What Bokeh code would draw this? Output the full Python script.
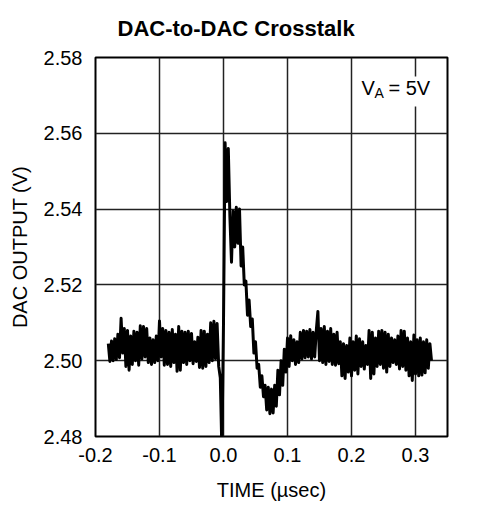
from bokeh.plotting import figure
from bokeh.models import Range1d, FixedTicker, NumeralTickFormatter, Label, BoxAnnotation
from bokeh.embed import file_html
from bokeh.resources import INLINE

# ---- data ----
TITLE = "DAC-to-DAC Crosstalk"
X_LABEL = "TIME (µsec)"
Y_LABEL = "DAC OUTPUT (V)"
x_ticks = [-0.2, -0.1, 0.0, 0.1, 0.2, 0.3]
y_ticks = [2.48, 2.50, 2.52, 2.54, 2.56, 2.58]

t_start = -0.18      # µs, first sample
t_step = 0.0025      # µs, sample spacing
volts = [
    2.5045, 2.4998, 2.5052, 2.5000, 2.5058, 2.5003, 2.5070, 2.5008, 2.5112, 2.5020,
    2.5085, 2.4985, 2.5080, 2.4975, 2.5065, 2.4990, 2.5078, 2.5000, 2.5075, 2.4988,
    2.5092, 2.5005, 2.5090, 2.5010, 2.5085, 2.4995, 2.5060, 2.4990, 2.5055, 2.4995,
    2.5065, 2.5000, 2.5105, 2.5010, 2.5085, 2.4988, 2.5080, 2.4990, 2.5075, 2.4985,
    2.5082, 2.4995, 2.5070, 2.4972, 2.5090, 2.4975, 2.5078, 2.4995, 2.5075, 2.4990,
    2.5078, 2.5000, 2.5072, 2.4992, 2.5050, 2.4998, 2.5062, 2.4982, 2.5080, 2.4980,
    2.5078, 2.4985, 2.5070, 2.4995, 2.5100, 2.5000, 2.5104, 2.5005, 2.5098, 2.4985,
    2.4955, 2.4760, 2.5100, 2.5575, 2.5420, 2.5560, 2.5380, 2.5260, 2.5395, 2.5300,
    2.5405, 2.5310, 2.5400, 2.5250, 2.5300, 2.5200, 2.5210, 2.5120, 2.5160, 2.5090,
    2.5110, 2.5020, 2.5050, 2.4980, 2.4990, 2.4930, 2.4960, 2.4905, 2.4935, 2.4870,
    2.4930, 2.4860, 2.4925, 2.4862, 2.4935, 2.4880, 2.4975, 2.4910, 2.5000, 2.4935,
    2.5030, 2.4970, 2.5060, 2.4985, 2.5066, 2.5000, 2.5055, 2.4990, 2.5050, 2.4995,
    2.5075, 2.5005, 2.5080, 2.5008, 2.5078, 2.5010, 2.5082, 2.5005, 2.5075, 2.5010,
    2.5080, 2.5130, 2.5000, 2.5085, 2.4995, 2.5090, 2.4990, 2.5078, 2.4998, 2.5085,
    2.4990, 2.5070, 2.4988, 2.5075, 2.4992, 2.5050, 2.4960, 2.5045, 2.4953, 2.5040,
    2.4970, 2.5060, 2.4960, 2.5050, 2.4975, 2.5065, 2.4965, 2.5058, 2.4985, 2.5050,
    2.4978, 2.5040, 2.4990, 2.5080, 2.4953, 2.5075, 2.4965, 2.5060, 2.4985, 2.5078,
    2.4990, 2.5080, 2.4980, 2.5075, 2.4970, 2.5070, 2.4985, 2.5060, 2.4995, 2.5055,
    2.4990, 2.5065, 2.4978, 2.5080, 2.4985, 2.5078, 2.4975, 2.5060, 2.4960, 2.5050,
    2.4948, 2.5068, 2.4965, 2.5055, 2.4960, 2.5060, 2.4962, 2.5050, 2.4968, 2.5055,
    2.4980, 2.5045, 2.5000,
]
times = [t_start + i * t_step for i in range(len(volts))]

FONT = "Liberation Sans"

p = figure(width=468, height=505, output_backend="svg", toolbar_location=None,
           x_range=Range1d(-0.2, 0.35), y_range=Range1d(2.48, 2.58),
           min_border_left=95, min_border_right=21, min_border_top=57,
           min_border_bottom=69, title=TITLE)

p.title.text_font = FONT
p.title.text_font_size = "22px"
p.title.text_font_style = "bold"
p.title.text_color = "black"
p.title.align = "left"
p.title.offset = 22
p.title.vertical_align = "top"
p.title.standoff = 30

p.outline_line_color = "black"
p.outline_line_width = 2
p.background_fill_color = "white"
p.border_fill_color = "white"

for ax in (p.xaxis[0], p.yaxis[0]):
    ax.axis_line_color = None
    ax.major_tick_line_color = None
    ax.minor_tick_line_color = None
    ax.major_tick_in = 0
    ax.major_tick_out = 0
    ax.minor_tick_out = 0
    ax.major_label_text_font = FONT
    ax.major_label_text_font_size = "20px"
    ax.major_label_text_color = "black"
    ax.axis_label_text_font = FONT
    ax.axis_label_text_font_size = "20px"
    ax.axis_label_text_font_style = "normal"
    ax.axis_label_text_color = "black"

p.xaxis.ticker = FixedTicker(ticks=x_ticks)
p.yaxis.ticker = FixedTicker(ticks=y_ticks)
p.xaxis.formatter = NumeralTickFormatter(format="0.0")
p.yaxis.formatter = NumeralTickFormatter(format="0.00")
p.xaxis.axis_label = X_LABEL
p.yaxis.axis_label = Y_LABEL
p.xaxis.major_label_standoff = 11
p.yaxis.major_label_standoff = 13
p.xaxis.axis_label_standoff = 14
p.yaxis.axis_label_standoff = 10

for g in (p.xgrid[0], p.ygrid[0]):
    g.grid_line_color = "#222222"
    g.grid_line_width = 1.5
p.xgrid.ticker = FixedTicker(ticks=x_ticks)
p.ygrid.ticker = FixedTicker(ticks=y_ticks)

p.line(times, volts, line_color="black", line_width=3, line_join="round")

# white patch behind the annotation text (grid line is broken there)
p.add_layout(BoxAnnotation(left=0.285, right=0.322, bottom=2.5671, top=2.5750,
                           fill_color="white", fill_alpha=1.0, line_color=None))

p.add_layout(Label(x=0.2156, y=2.5720, text="V", text_font=FONT,
                   text_font_size="20px", text_baseline="alphabetic", text_color="black"))
p.add_layout(Label(x=0.2360, y=2.5707, text="A", text_font=FONT,
                   text_font_size="14px", text_baseline="alphabetic", text_color="black"))
p.add_layout(Label(x=0.2578, y=2.5720, text="= 5V", text_font=FONT,
                   text_font_size="20px", text_baseline="alphabetic", text_color="black"))

open("out.html", "w").write(file_html(p, INLINE))
